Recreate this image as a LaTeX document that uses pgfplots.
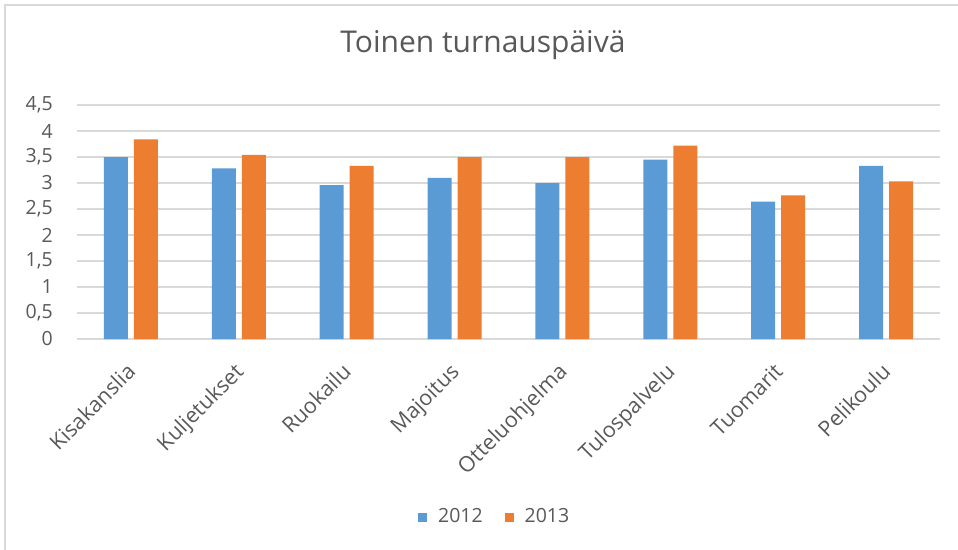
\documentclass[border=0pt]{standalone}
\usepackage{fontspec}
\setmainfont{Open Sans}
\usepackage{pgfplots}
\pgfplotsset{compat=1.18}
\definecolor{cblue}{HTML}{5B9BD5}
\definecolor{corange}{HTML}{ED7D31}
\definecolor{cgrid}{HTML}{D9D9D9}
\definecolor{ctext}{HTML}{595959}
\begin{document}
\begin{tikzpicture}
\useasboundingbox (-77bp,-211bp) rectangle (881bp,339bp);
\draw[cgrid, line width=1.2bp] (-72bp,-211bp) -- (-72bp,334bp) -- (881bp,334bp);
\node[anchor=base, text=ctext, font=\fontsize{30bp}{34bp}\selectfont] at (406bp,286bp) {Toinen turnauspäivä};
\begin{axis}[
  at={(0,0)}, anchor=south west,
  scale only axis, width=863bp, height=234bp,
  ybar=6bp, bar width=24bp,
  xmin=-0.5, xmax=7.5, ymin=0, ymax=4.5,
  xtick=data,
  xticklabels={Kisakanslia,Kuljetukset,Ruokailu,Majoitus,Otteluohjelma,Tulospalvelu,Tuomarit,Pelikoulu},
  ytick={0,0.5,...,4.5},
  /pgf/number format/assume math mode=true,
  /pgf/number format/use comma,
  yticklabel style={/pgf/number format/fixed, /pgf/number format/precision=1, anchor=east, inner sep=0pt, xshift=-24bp, font=\fontsize{19.5bp}{22bp}\selectfont},
  ticklabel style={text=ctext},
  xticklabel style={xshift=6bp, yshift=-30bp, rotate=45, anchor=base east, inner sep=0pt, font=\fontsize{21.5bp}{24bp}\selectfont},
  major tick style={draw=none},
  axis line style={draw=none},
  ymajorgrids, grid style={cgrid, line width=1.2bp},
  legend columns=2,
  legend style={draw=none, at={(0.484,-0.756)}, anchor=center, font=\fontsize{19.5bp}{22bp}\selectfont, text=ctext,
    /tikz/every odd column/.append style={column sep=9bp},
    /tikz/every even column/.append style={column sep=20bp}},
  legend image code/.code={\fill[#1] (0bp,-6.5bp) rectangle (9bp,2.5bp);},
]
\addplot[fill=cblue, draw=none] coordinates {(0,3.50) (1,3.28) (2,2.96) (3,3.10) (4,3.00) (5,3.45) (6,2.64) (7,3.33)};
\addplot[fill=corange, draw=none] coordinates {(0,3.84) (1,3.54) (2,3.33) (3,3.50) (4,3.50) (5,3.72) (6,2.76) (7,3.03)};
\legend{2012,2013}
\end{axis}
\end{tikzpicture}
\end{document}
